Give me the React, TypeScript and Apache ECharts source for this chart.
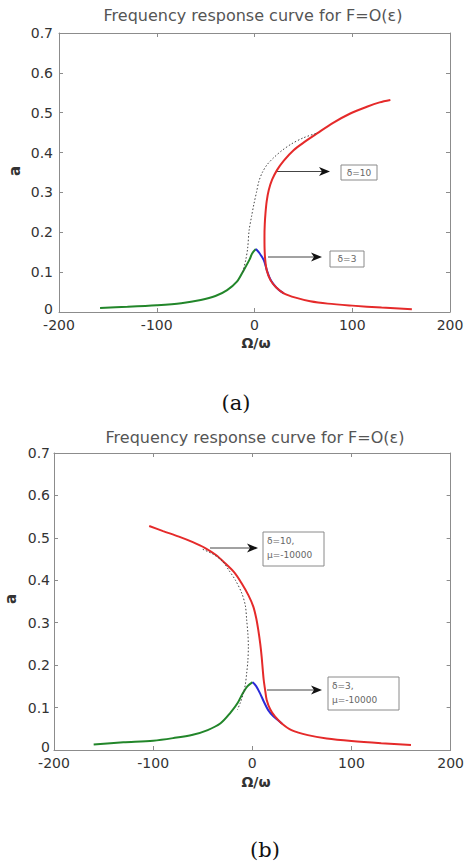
import React, { useEffect, useRef } from "react";
import * as echarts from "echarts";

// ---------- data ----------
const xTickLabels = ["-200", "-100", "0", "100", "200"];
const yTickLabels = ["0", "0.1", "0.2", "0.3", "0.4", "0.5", "0.6", "0.7"];

// (a) delta = 10 / 3
const greenA_x = [-158, -130, -100, -75, -55, -40, -28, -18, -11, -5, -2.4, 1.4];
const greenA_y = [0.010, 0.013, 0.017, 0.022, 0.030, 0.040, 0.055, 0.076, 0.105, 0.132, 0.147, 0.158];
const blueA_x = [1.4, 5, 9.5, 13, 16, 20, 25, 30];
const blueA_y = [0.158, 0.148, 0.130, 0.102, 0.083, 0.068, 0.055, 0.047];
const redA_x = [161, 130, 100, 75, 57, 42, 30, 22, 16.3, 12.5, 11, 10.3, 10.2, 10.5, 11.2, 12.5, 14.6, 18, 23, 30, 40, 52, 64, 80, 98, 115, 128, 139];
const redA_y = [0.007, 0.011, 0.016, 0.021, 0.027, 0.036, 0.047, 0.062, 0.080, 0.105, 0.130, 0.160, 0.190, 0.220, 0.247, 0.278, 0.306, 0.332, 0.356, 0.380, 0.406, 0.428, 0.448, 0.474, 0.498, 0.515, 0.526, 0.532];
const dotA_x = [-12, -9, -7, -5.5, -3, -0.5, 2, 4.5, 8, 13, 20, 28, 38, 50, 64];
const dotA_y = [0.100, 0.130, 0.160, 0.205, 0.240, 0.272, 0.300, 0.328, 0.350, 0.370, 0.388, 0.405, 0.422, 0.437, 0.449];

// (b) mu = -10000
const greenB_x = [-160, -130, -100, -80, -60, -45, -32, -22, -15, -10, -5, 0.3];
const greenB_y = [0.013, 0.018, 0.022, 0.028, 0.036, 0.047, 0.063, 0.088, 0.110, 0.132, 0.150, 0.160];
const blueB_x = [0.3, 4, 7.7, 12, 16, 21, 26, 30];
const blueB_y = [0.160, 0.150, 0.134, 0.112, 0.094, 0.080, 0.070, 0.062];
const redB_x = [-104, -90, -74, -60, -47.5, -37, -27.4, -18, -10.8, -4, 1, 4, 6, 8, 9.4, 10.5, 11.5, 13, 14.5, 18, 22.8, 30, 39.5, 56, 75, 100, 130, 160];
const redB_y = [0.528, 0.516, 0.503, 0.490, 0.476, 0.460, 0.440, 0.418, 0.393, 0.365, 0.338, 0.310, 0.283, 0.250, 0.220, 0.190, 0.165, 0.140, 0.118, 0.096, 0.079, 0.062, 0.047, 0.035, 0.027, 0.021, 0.016, 0.012];
const dotB_x = [-50, -40, -30, -24, -17, -10.7, -7, -5.7, -4.5, -4, -4.5, -5.7, -7, -9, -12, -15];
const dotB_y = [0.473, 0.462, 0.445, 0.425, 0.400, 0.370, 0.340, 0.307, 0.275, 0.244, 0.210, 0.181, 0.155, 0.134, 0.112, 0.095];

const titleText = "Frequency response curve for F=O(ε)";
const xName = "Ω/ω";
const yName = "a";
const panelLabels = ["(a)", "(b)"];
const annA = [["δ=10"], ["δ=3"]];
const annB = [["δ=10,", "μ=-10000"], ["δ=3,", "μ=-10000"]];

const zip = (xs: number[], ys: number[]) => xs.map((x, i) => [x, ys[i]]);

const FONT = "DejaVu Sans";
const AX = "#8c8c8c";

function makeAxes(gridIndex: number, labelMargin: number) {
  const common = {
    gridIndex,
    type: "value" as const,
    axisLine: { show: true, onZero: false, lineStyle: { color: AX, width: 1 } },
    axisTick: { show: true, inside: true, length: 4, lineStyle: { color: AX } },
    splitLine: { show: false },
  };
  const xs = [
    {
      ...common,
      position: "bottom",
      min: -200, max: 200, interval: 100,
      axisLabel: {
        show: true, margin: 6, color: "#333", fontFamily: FONT, fontSize: 14,
        formatter: (v: number) => xTickLabels[Math.round((v + 200) / 100)] ?? "",
      },
    },
    { ...common, position: "top", min: -200, max: 200, interval: 100, axisLabel: { show: false } },
  ];
  const ys = [
    {
      ...common,
      position: "left",
      min: 0, max: 0.7, interval: 0.1,
      axisLabel: {
        show: true, margin: labelMargin, color: "#333", fontFamily: FONT, fontSize: 14,
        formatter: (v: number) => {
          const i = Math.round(v * 10);
          const t = yTickLabels[i] ?? "";
          return i === 0 ? "{z|" + t + "}" : t;
        },
        rich: { z: { fontFamily: FONT, fontSize: 14, color: "#333", lineHeight: 12, padding: [0, 0, 7, 0] } },
      },
    },
    { ...common, position: "right", min: 0, max: 0.7, interval: 0.1, axisLabel: { show: false } },
  ];
  return { xs, ys };
}

function lineSeries(data: number[][], color: string, axisIdx: number, width = 2, dotted = false) {
  return {
    type: "line",
    xAxisIndex: axisIdx,
    yAxisIndex: axisIdx,
    data,
    showSymbol: false,
    symbol: "none",
    smooth: 0.3,
    lineStyle: { color, width, type: dotted ? [1.5, 2] : "solid" },
    silent: true,
  };
}

function arrow(x1: number, x2: number, y: number) {
  return [
    { type: "line", shape: { x1, y1: y, x2: x2 - 6, y2: y }, style: { stroke: "#444", lineWidth: 1 } },
    {
      type: "polygon",
      shape: { points: [[x2, y], [x2 - 11, y - 4.5], [x2 - 8, y], [x2 - 11, y + 4.5]] },
      style: { fill: "#111" },
    },
  ];
}

function box(x: number, y: number, w: number, h: number, lines: string[], center: boolean) {
  const els: any[] = [
    { type: "rect", shape: { x, y, width: w, height: h }, style: { fill: "#fff", stroke: "#8a8a8a", lineWidth: 1 } },
  ];
  if (center) {
    els.push({
      type: "text", x: x + w / 2, y: y + h / 2,
      style: { text: lines[0], fontFamily: FONT, fontSize: 9, fill: "#666", align: "center", verticalAlign: "middle" },
    });
  } else {
    lines.forEach((t, i) => {
      els.push({
        type: "text", x: x + 4, y: y + 9 + i * 14,
        style: { text: t, fontFamily: FONT, fontSize: 9, fill: "#666", align: "left", verticalAlign: "middle" },
      });
    });
  }
  return els;
}

export default function App() {
  const ref = useRef<HTMLDivElement>(null);
  useEffect(() => {
    if (!ref.current) return;
    const chart = echarts.init(ref.current, null, { renderer: "svg" });
    const a = makeAxes(0, 6);
    const b = makeAxes(1, 4);
    const option: any = {
      animation: false,
      backgroundColor: "#fff",
      grid: [
        { left: 59, top: 33, width: 391, height: 279, containLabel: false },
        { left: 54, top: 453, width: 399, height: 297, containLabel: false },
      ],
      xAxis: [...a.xs, ...b.xs.map((x) => ({ ...x, gridIndex: 1 }))],
      yAxis: [...a.ys, ...b.ys.map((y) => ({ ...y, gridIndex: 1 }))],
      series: [
        lineSeries(zip(greenA_x, greenA_y), "#22862a", 0),
        lineSeries(zip(blueA_x, blueA_y), "#2a2ad8", 0),
        lineSeries(zip(redA_x, redA_y), "#e52a2a", 0),
        lineSeries(zip(dotA_x, dotA_y), "#444", 0, 1, true),
        lineSeries(zip(greenB_x, greenB_y), "#22862a", 2),
        lineSeries(zip(blueB_x, blueB_y), "#2a2ad8", 2),
        lineSeries(zip(redB_x, redB_y), "#e52a2a", 2),
        lineSeries(zip(dotB_x, dotB_y), "#444", 2, 1, true),
      ],
      graphic: [
        // titles
        { type: "text", x: 253, y: 15, style: { text: titleText, fontFamily: FONT, fontSize: 16, fill: "#555", align: "center", verticalAlign: "middle" } },
        { type: "text", x: 255, y: 437, style: { text: titleText, fontFamily: FONT, fontSize: 16, fill: "#555", align: "center", verticalAlign: "middle" } },
        // axis names
        { type: "text", x: 256, y: 343, style: { text: xName, fontFamily: FONT, fontWeight: "bold", fontSize: 14, fill: "#333", align: "center", verticalAlign: "middle" } },
        { type: "text", x: 256, y: 782, style: { text: xName, fontFamily: FONT, fontWeight: "bold", fontSize: 14, fill: "#333", align: "center", verticalAlign: "middle" } },
        { type: "text", x: 15, y: 171, rotation: Math.PI / 2, style: { text: yName, fontFamily: FONT, fontWeight: "bold", fontSize: 15, fill: "#333", align: "center", verticalAlign: "middle" } },
        { type: "text", x: 11, y: 599, rotation: Math.PI / 2, style: { text: yName, fontFamily: FONT, fontWeight: "bold", fontSize: 15, fill: "#333", align: "center", verticalAlign: "middle" } },
        // panel labels
        { type: "text", x: 236, y: 403, style: { text: panelLabels[0], fontFamily: "DejaVu Serif", fontSize: 21, fill: "#111", align: "center", verticalAlign: "middle" } },
        { type: "text", x: 265, y: 850, style: { text: panelLabels[1], fontFamily: "DejaVu Serif", fontSize: 21, fill: "#111", align: "center", verticalAlign: "middle" } },
        // annotations (a)
        ...arrow(277, 330, 171.5),
        ...box(341, 165, 36, 15, annA[0], true),
        ...arrow(268, 322, 257),
        ...box(330, 251, 34, 16, annA[1], true),
        // annotations (b)
        ...arrow(210, 258, 548),
        ...box(263, 532, 61, 34, annB[0], false),
        ...arrow(267, 322, 690),
        ...box(328, 677, 71, 33, annB[1], false),
      ],
    };
    chart.setOption(option);
    return () => chart.dispose();
  }, []);
  return (
    <div
      ref={ref}
      style={{ position: "absolute", left: 0, top: 0, width: 467, height: 866, background: "#fff" }}
    />
  );
}
